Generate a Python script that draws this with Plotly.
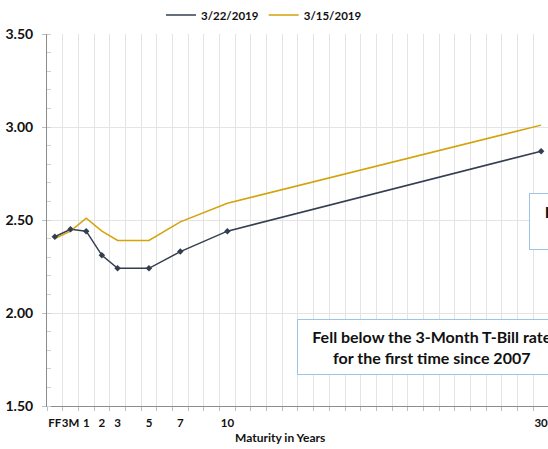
import plotly.graph_objects as go

# All category slots on the x axis (Excel-style category axis)
all_categories = ["FF", "3M"] + [str(i) for i in range(1, 31)]

maturities = ["FF", "3M", "1", "2", "3", "5", "7", "10", "30"]
rates_0322 = [2.41, 2.45, 2.44, 2.31, 2.24, 2.24, 2.33, 2.44, 2.87]
rates_0315 = [2.40, 2.44, 2.51, 2.44, 2.39, 2.39, 2.49, 2.59, 3.01]

tick_labels = ["FF", "3M", "1", "2", "3", "5", "7", "10", "30"]
y_ticks = [1.5, 2.0, 2.5, 3.0, 3.5]

x_pos = [all_categories.index(m) for m in maturities]
tick_pos = [all_categories.index(t) for t in tick_labels]

FONT = "Lato"
DARK = "#333F50"
GOLD = "#D4A20B"

fig = go.Figure()
fig.add_trace(go.Scatter(
    x=x_pos, y=rates_0322, name="3/22/2019", mode="lines",
    line=dict(color=DARK, width=1.5), legendgroup="a",
))
fig.add_trace(go.Scatter(
    x=x_pos, y=rates_0315, name="3/15/2019", mode="lines",
    line=dict(color=GOLD, width=1.5), legendgroup="b",
))
fig.add_trace(go.Scatter(
    x=x_pos, y=rates_0322, name="3/22/2019", mode="markers",
    marker=dict(symbol="diamond", size=5, color=DARK),
    showlegend=False, legendgroup="a",
))

L, R, T, B = 47, 0, 34, 43
W, H = 548, 449
pw = W - L - R
ph = H - T - B


def px2paper_x(px):
    return (px - L) / pw


def px2paper_y(py):
    return (H - B - py) / ph


fig.update_layout(
    width=W, height=H,
    margin=dict(l=L, r=R, t=T, b=B),
    paper_bgcolor="white", plot_bgcolor="white",
    font=dict(family=FONT, color="#111111"),
    showlegend=True,
    legend=dict(
        orientation="h", x=px2paper_x(264), xanchor="center",
        y=px2paper_y(15), yanchor="middle",
        font=dict(size=11.5, family=FONT, weight="bold"),
        itemwidth=30, tracegroupgap=0,
        bgcolor="rgba(0,0,0,0)",
    ),
    xaxis=dict(
        range=[-0.5, 31.44],
        tickmode="array", tickvals=tick_pos, ticktext=tick_labels,
        tickangle=0, ticklabeloverflow="allow",
        showgrid=False, ticks="",
        tickfont=dict(size=11.5, family=FONT, weight="bold"),
        showline=True, linecolor="#8C8C8C", linewidth=1,
        zeroline=False,
        minor=dict(tickmode="linear", tick0=0.5, dtick=1, showgrid=True,
                   gridcolor="#E4E4E4", gridwidth=1,
                   ticks="outside", ticklen=4, tickcolor="#BFBFBF"),
        ticklabelstandoff=6,
    ),
    yaxis=dict(
        range=[1.5, 3.5],
        tickmode="array", tickvals=y_ticks,
        tickformat=".2f",
        showgrid=True, gridcolor="#E4E4E4", gridwidth=1,
        ticks="outside", ticklen=4, tickcolor="#BFBFBF",
        tickfont=dict(size=14, family=FONT, weight="bold"),
        showline=True, linecolor="#8C8C8C", linewidth=1,
        zeroline=False,
        minor=dict(tickmode="linear", tick0=1.5, dtick=0.1,
                   ticks="inside", ticklen=4, tickcolor="#D0D0D0",
                   showgrid=False),
        ticklabelstandoff=6,
    ),
    annotations=[
        dict(
            text="Maturity in Years", xref="paper", yref="paper",
            x=px2paper_x(280), y=px2paper_y(437), xanchor="center", yanchor="middle",
            showarrow=False, font=dict(size=12, family=FONT, weight="bold"),
        ),
        dict(
            text="Fell below the 3-Month T-Bill rate<br>for the first time since 2007",
            xref="paper", yref="paper",
            x=px2paper_x(297), y=px2paper_y(319), xanchor="left", yanchor="top",
            width=264, height=50, borderpad=2, align="center", valign="middle",
            showarrow=False, bgcolor="white", bordercolor="#9DC3E6", borderwidth=1,
            font=dict(size=16, family=FONT, weight="bold", color="#111111"),
        ),
        dict(
            text="&nbsp;&nbsp;&nbsp;Inverted for the first time<br>"
                 "&nbsp;&nbsp;&nbsp;&nbsp;&nbsp;&nbsp;&nbsp;&nbsp;since 2007",
            xref="paper", yref="paper",
            x=px2paper_x(529), y=px2paper_y(193), xanchor="left", yanchor="top",
            width=240, height=49, borderpad=3, align="left", valign="middle",
            showarrow=False, bgcolor="white", bordercolor="#9DC3E6", borderwidth=1,
            font=dict(size=16, family=FONT, weight="bold", color="#111111"),
        ),
    ],
)

fig.write_html("out.html", config={"displayModeBar": False})

# Remove the default page margin so the figure sits at the window's top-left corner
with open("out.html", "r", encoding="utf-8") as f:
    html = f.read()
html = html.replace("<head>", "<head><style>html,body{margin:0;padding:0;overflow:hidden;}</style>", 1)
with open("out.html", "w", encoding="utf-8") as f:
    f.write(html)
